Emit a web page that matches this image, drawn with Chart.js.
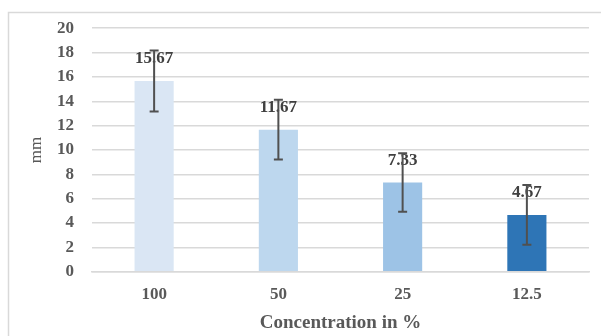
<!DOCTYPE html>
<html>
<head>
<meta charset="utf-8">
<script src="https://cdn.jsdelivr.net/npm/chart.js@4"></script>
<style>
html,body{margin:0;padding:0;background:#fff;}
#wrap{position:relative;width:601px;height:336px;}
</style>
</head>
<body>
<div id="wrap"><canvas id="c" width="601" height="336"></canvas></div>
<script>
const categories = ['100', '50', '25', '12.5'];
const values = [15.67, 11.67, 7.33, 4.67];
const errors = [2.5, 2.45, 2.4, 2.45];
const labels = ['15.67', '11.67', '7.33', '4.67'];
const barColors = ['#DAE6F4', '#BDD7EE', '#9DC3E6', '#2E75B6'];
const yTitle = 'mm';
const xTitle = 'Concentration in %';

const frame = {
  id: 'frame',
  beforeDraw(chart) {
    const ctx = chart.ctx;
    ctx.save();
    ctx.fillStyle = '#fff';
    ctx.fillRect(0, 0, chart.width, chart.height);
    ctx.strokeStyle = '#d9d9d9';
    ctx.lineWidth = 1.5;
    ctx.beginPath();
    ctx.moveTo(8.5, chart.height + 2);
    ctx.lineTo(8.5, 12.5);
    ctx.lineTo(chart.width + 2, 12.5);
    ctx.stroke();
    ctx.restore();
  }
};

const labelsAndErrors = {
  id: 'labelsAndErrors',
  afterDatasetsDraw(chart) {
    const ctx = chart.ctx;
    const meta = chart.getDatasetMeta(0);
    const y = chart.scales.y;
    ctx.save();
    ctx.font = 'bold 17px "Liberation Serif", "Times New Roman", serif';
    ctx.fillStyle = '#404040';
    ctx.textAlign = 'center';
    ctx.textBaseline = 'middle';
    meta.data.forEach((bar, i) => {
      ctx.fillText(labels[i], bar.x, bar.y - 22);
    });
    ctx.strokeStyle = '#505050';
    ctx.lineWidth = 2;
    meta.data.forEach((bar, i) => {
      const top = y.getPixelForValue(values[i] + errors[i]);
      const bot = y.getPixelForValue(values[i] - errors[i]);
      ctx.beginPath();
      ctx.moveTo(bar.x, top);
      ctx.lineTo(bar.x, bot);
      ctx.moveTo(bar.x - 4.5, top);
      ctx.lineTo(bar.x + 4.5, top);
      ctx.moveTo(bar.x - 4.5, bot);
      ctx.lineTo(bar.x + 4.5, bot);
      ctx.stroke();
    });
    ctx.restore();
  }
};

const tickFont = { family: '"Liberation Serif", "Times New Roman", serif', size: 17, weight: 'bold' };

new Chart(document.getElementById('c'), {
  type: 'bar',
  data: {
    labels: categories,
    datasets: [{
      data: values,
      backgroundColor: barColors,
      borderWidth: 0,
      barPercentage: 0.63,
      categoryPercentage: 0.5
    }]
  },
  options: {
    responsive: false,
    animation: false,
    devicePixelRatio: 1,
    layout: { padding: { top: 18, right: 12, left: 26, bottom: 2 } },
    plugins: { legend: { display: false }, tooltip: { enabled: false } },
    scales: {
      x: {
        grid: { display: false },
        border: { color: '#d9d9d9', width: 1.5 },
        ticks: { color: '#595959', font: tickFont, padding: 5 },
        title: { display: true, text: xTitle, color: '#595959', font: { family: tickFont.family, size: 19, weight: 'bold' }, padding: { top: 1, bottom: 0 } }
      },
      y: {
        min: 0, max: 20,
        ticks: { stepSize: 2, color: '#595959', font: tickFont, padding: 18 },
        grid: { color: '#d9d9d9', lineWidth: 1.5, drawTicks: false },
        border: { display: false },
        title: { display: true, text: yTitle, color: '#595959', font: { family: tickFont.family, size: 17 }, padding: 0 },
        afterFit(scale) { scale.width = 66; }
      }
    }
  },
  plugins: [frame, labelsAndErrors]
});
</script>
</body>
</html>
